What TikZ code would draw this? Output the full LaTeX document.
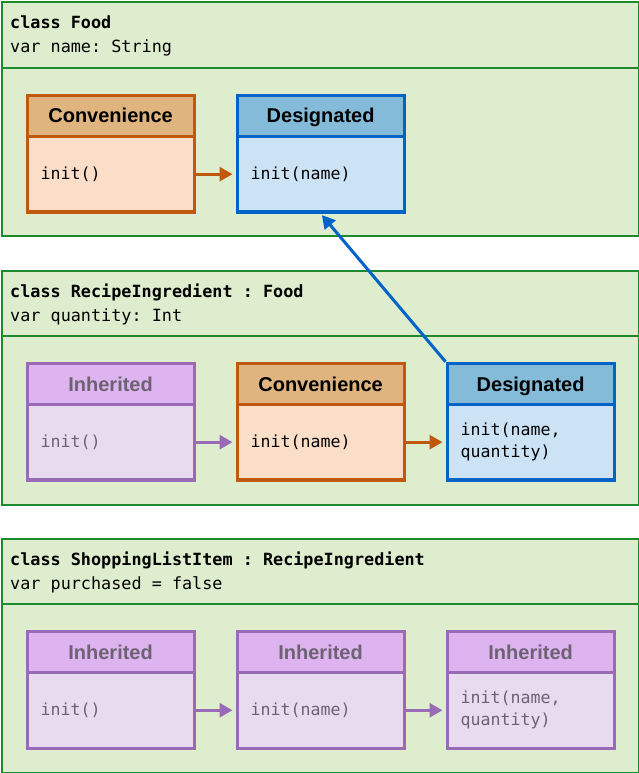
\documentclass[tikz,border=0pt]{standalone}
\usepackage{fontspec}
\setmainfont{Liberation Sans}
\newfontfamily\monof{DejaVu Sans Mono}
\usetikzlibrary{arrows.meta}
\frenchspacing
\definecolor{panelfill}{RGB}{221,237,205}
\definecolor{panelline}{RGB}{30,138,46}
\definecolor{conhead}{RGB}{224,180,126}
\definecolor{conbody}{RGB}{250,222,200}
\definecolor{conline}{RGB}{192,88,14}
\definecolor{deshead}{RGB}{131,187,217}
\definecolor{desbody}{RGB}{204,227,246}
\definecolor{desline}{RGB}{0,99,199}
\definecolor{inhhead}{RGB}{221,179,240}
\definecolor{inhbody}{RGB}{232,218,239}
\definecolor{inhline}{RGB}{154,106,182}
\definecolor{inhtext}{RGB}{108,98,114}
\tikzset{
  panel/.style={draw=panelline, fill=panelfill, line width=2pt, anchor=north west,
    minimum width=637pt, minimum height=234pt, inner sep=0pt},
  divider/.style={draw=panelline, line width=2pt},
  ptext/.style={anchor=base west, inner sep=0pt, font=\monof\fontsize{16.8}{20}\selectfont\frenchspacing},
  hdr/.style={anchor=north west, minimum width=167pt, minimum height=41pt, line width=3.2pt,
    inner sep=0pt, text height=14.4pt, text depth=0pt, font=\fontsize{20}{24}\selectfont\bfseries},
  bdy/.style={anchor=north west, text width=140pt, minimum height=75.7pt, inner xsep=13.5pt,
    inner ysep=0pt, line width=3.2pt, align=left, font=\monof\fontsize{16.6}{22}\selectfont\frenchspacing},
  conH/.style={hdr, draw=conline, fill=conhead},
  conB/.style={bdy, draw=conline, fill=conbody},
  desH/.style={hdr, draw=desline, fill=deshead},
  desB/.style={bdy, draw=desline, fill=desbody},
  inhH/.style={hdr, draw=inhline, fill=inhhead, text=inhtext},
  inhB/.style={bdy, draw=inhline, fill=inhbody, text=inhtext},
  arr/.style={line width=3pt, -{Triangle[length=13pt,width=14pt]}, shorten >=3pt},
  conA/.style={arr, draw=conline, fill=conline},
  inhA/.style={arr, draw=inhline, fill=inhline},
  desA/.style={line width=3pt, draw=desline, -{Triangle[length=13pt,width=14pt]}, shorten >=2pt},
}
\begin{document}
\begin{tikzpicture}[x=1pt,y=-1pt]
\useasboundingbox (0,0) rectangle (639,773);
% panels
\node[panel] (p1) at (1,1) {};
\node[panel] (p2) at (1,269.5) {};
\node[panel] (p3) at (1,537.5) {};
\draw[divider] (p1.west |- 0,67.8) -- (p1.east |- 0,67.8);
\draw[divider] (p2.west |- 0,336.2) -- (p2.east |- 0,336.2);
\draw[divider] (p3.west |- 0,603.7) -- (p3.east |- 0,603.7);
\node[ptext] (t1a) at (10,29) {\bfseries class Food};
\node[ptext] (t1b) at (10,53) {var name: String};
\node[ptext] (t2a) at (10,297) {\bfseries class RecipeIngredient : Food};
\node[ptext] (t2b) at (10,321) {var quantity: Int};
\node[ptext] (t3a) at (10,565) {\bfseries class ShoppingListItem : RecipeIngredient};
\node[ptext] (t3b) at (10,589) {var purchased = false};
% row 1
\node[conH] (c1h) at (25.5,93.7) {Convenience};
\node[conB] (c1b) at (25.5,134.7) {init()};
\node[desH] (d1h) at (235.5,93.7) {Designated};
\node[desB] (d1b) at (235.5,134.7) {init(name)};
% row 2
\node[inhH] (i2h) at (25.5,361.7) {Inherited};
\node[inhB] (i2b) at (25.5,402.7) {init()};
\node[conH] (c2h) at (235.5,361.7) {Convenience};
\node[conB] (c2b) at (235.5,402.7) {init(name)};
\node[desH] (d2h) at (445.5,361.7) {Designated};
\node[desB] (d2b) at (445.5,402.7) {init(name,\\quantity)};
% row 3
\node[inhH] (i3h) at (25.5,629.8) {Inherited};
\node[inhB] (i3b) at (25.5,670.8) {init()};
\node[inhH] (j3h) at (235.5,629.8) {Inherited};
\node[inhB] (j3b) at (235.5,670.8) {init(name)};
\node[inhH] (k3h) at (445.5,629.8) {Inherited};
\node[inhB] (k3b) at (445.5,670.8) {init(name,\\quantity)};
% arrows
\draw[conA] (c1b.east) -- (d1b.west);
\draw[inhA] (i2b.east) -- (c2b.west);
\draw[conA] (c2b.east) -- (d2b.west);
\draw[inhA] (i3b.east) -- (j3b.west);
\draw[inhA] (j3b.east) -- (k3b.west);
\draw[desA] (d2h.north west) -- (d1b.south);
\end{tikzpicture}
\end{document}
